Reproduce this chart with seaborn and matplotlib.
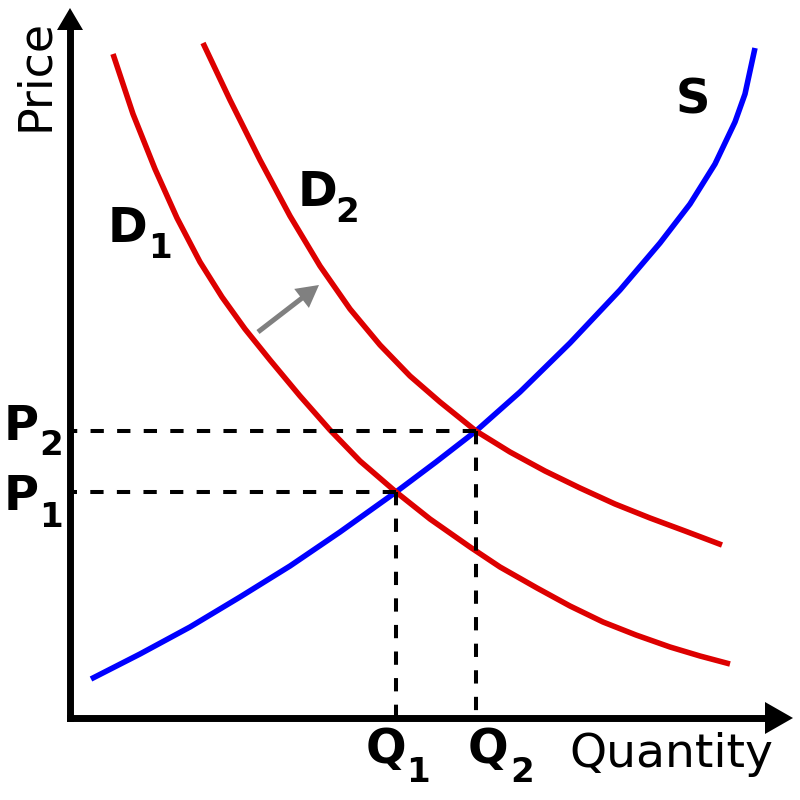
import matplotlib
matplotlib.use("Agg")
import matplotlib.pyplot as plt
import seaborn as sns

# curves (quantity, price), 1 unit = 1 px
d1_q = [43, 63, 85, 107, 130, 152, 175, 200, 230, 260, 290, 326, 360, 400, 430, 467, 500, 533, 566, 600, 630, 660]
d1_p = [664, 604, 549, 500, 456, 421, 389, 358, 322, 288, 257, 226, 199, 171, 151, 130, 112, 96, 83, 71, 62, 54]

d2_q = [133, 160, 190, 220, 250, 280, 310, 340, 370, 406, 440, 475, 510, 545, 580, 615, 652]
d2_p = [675, 618, 558, 502, 452, 409, 373, 342, 316, 287, 266, 247, 230, 214, 200, 187, 173]

s_q = [21, 70, 120, 170, 220, 270, 326, 366, 406, 450, 500, 550, 590, 620, 645, 665, 675, 685]
s_p = [39, 64, 91, 121, 152, 186, 226, 256, 287, 326, 375, 428, 475, 514, 554, 596, 624, 670]

# equilibrium points
q_eq = [326, 406]
p_eq = [226, 287]

# labels: letter, subscript, letter position, subscript position
labels = [
    ("P", "1", (-66, 208), (-31, 191)),
    ("P", "2", (-66, 278), (-31, 263)),
    ("Q", "1", (296, -45), (336, -64)),
    ("Q", "2", (398, -45), (440, -64)),
    ("D", "1", (38, 476), (78, 460)),
    ("D", "2", (228, 512), (265, 496)),
    ("S", "", (606, 605), None),
]

RED = "#dd0000"
BLUE = "#0000ff"

sns.set_style("white")
plt.rcParams["font.family"] = ["DejaVu Sans"]
plt.rcParams["text.color"] = "black"

fig = plt.figure(figsize=(8, 8), dpi=100)
ax = fig.add_axes([70 / 800, 82 / 800, 695 / 800, 688 / 800])
xmax, ymax = 695, 688
ax.set_xlim(0, xmax)
ax.set_ylim(0, ymax)

sns.lineplot(x=s_q, y=s_p, ax=ax, color=BLUE, lw=4, sort=False, estimator=None,
             solid_capstyle="butt", solid_joinstyle="round", zorder=3)
sns.lineplot(x=d1_q, y=d1_p, ax=ax, color=RED, lw=4, sort=False, estimator=None,
             solid_capstyle="butt", solid_joinstyle="round", zorder=4)
sns.lineplot(x=d2_q, y=d2_p, ax=ax, color=RED, lw=4, sort=False, estimator=None,
             solid_capstyle="butt", solid_joinstyle="round", zorder=4)

# dashed guides, drawn from the crossing towards each axis
for q, p in zip(q_eq, p_eq):
    ax.plot([q, 0], [p, p], color="black", lw=2.9, ls=(0, (3.3, 3.3)), zorder=5)
    ax.plot([q, q], [p, 0], color="black", lw=2.9, ls=(0, (3.3, 3.3)), zorder=5)

# shift arrow
ax.arrow(188, 386, 61, 47, width=5, head_width=24, head_length=22,
         length_includes_head=True, color="#808080", lw=0, zorder=6)

# axes with arrow heads
for side in ["top", "right"]:
    ax.spines[side].set_visible(False)
for side in ["left", "bottom"]:
    ax.spines[side].set_color("black")
    ax.spines[side].set_linewidth(5)
    ax.spines[side].set_capstyle("projecting")
ax.fill([xmax, xmax + 28, xmax], [-16, 0, 16], color="black", lw=0, clip_on=False)
ax.fill([-13, 0, 13], [ymax, ymax + 22, ymax], color="black", lw=0, clip_on=False)

ax.set_xticks([])
ax.set_yticks([])
ax.set_xlabel("")
ax.set_ylabel("")
ax.grid(False)

ax.text(499, -49, "Quantity", fontsize=34, ha="left", va="baseline")
ax.text(-22, 587, "Price", fontsize=33, rotation=90, rotation_mode="anchor",
        ha="left", va="baseline")

for letter, sub, pos, sub_pos in labels:
    ax.text(pos[0], pos[1], letter, fontsize=34.5, fontweight="bold",
            ha="left", va="baseline")
    if sub:
        ax.text(sub_pos[0], sub_pos[1], sub, fontsize=24.5, fontweight="bold",
                ha="left", va="baseline")

fig.savefig("out.png", dpi=100)
